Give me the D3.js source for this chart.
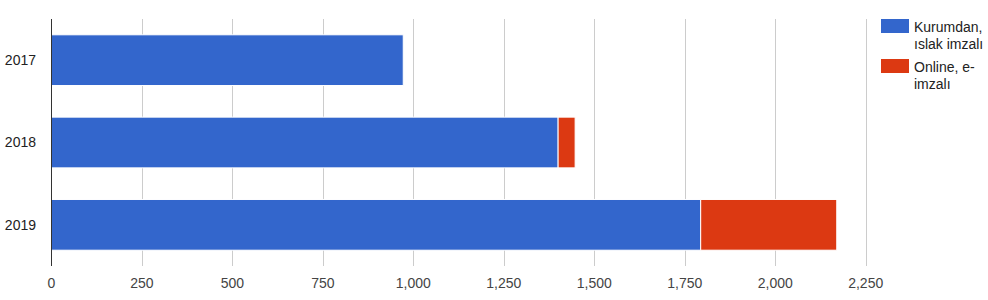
<!DOCTYPE html>
<html>
<head>
<meta charset="utf-8">
<script src="https://cdn.jsdelivr.net/npm/d3@7"></script>
<style>
  body { margin: 0; background: #fff; }
  text { font-family: "Liberation Sans", Arial, sans-serif; }
</style>
</head>
<body>
<div id="chart"></div>
<script>
const years = ["2017", "2018", "2019"];
const seriesNames = ["Kurumdan, ıslak imzalı", "Online, e-imzalı"];
const wetSigned = [972, 1400, 1794];
const eSigned = [0, 47, 376];
const xTicks = [0, 250, 500, 750, 1000, 1250, 1500, 1750, 2000, 2250];
const colors = ["#3366cc", "#dc3912"];

const width = 988, height = 300;
const margin = { left: 51.5, right: 122.3, top: 19, bottom: 34 };

const svg = d3.select("#chart").append("svg")
    .attr("width", width)
    .attr("height", height);

const x = d3.scaleLinear()
    .domain([0, 2250])
    .range([margin.left, width - margin.right]);

const y = d3.scaleBand()
    .domain(years)
    .range([margin.top, height - margin.bottom])
    .paddingInner(0.384)
    .paddingOuter(0.192);

// gridlines
svg.append("g")
    .selectAll("line")
    .data(xTicks.slice(1))
    .enter().append("line")
    .attr("x1", d => Math.round(x(d)) + 0.5)
    .attr("x2", d => Math.round(x(d)) + 0.5)
    .attr("y1", margin.top)
    .attr("y2", height - margin.bottom)
    .attr("stroke", "#cccccc")
    .attr("stroke-width", 1);

// stacked bars
const rows = years.map((yr, i) => ({ year: yr, values: [wetSigned[i], eSigned[i]] }));
const stack = d3.stack().keys([0, 1]).value((d, k) => d.values[k]);
const layers = stack(rows);

svg.append("g")
    .selectAll("g")
    .data(layers)
    .enter().append("g")
    .attr("fill", (d, i) => colors[i])
    .selectAll("rect")
    .data(d => d.filter(s => s[1] > s[0]))
    .enter().append("rect")
    .attr("x", d => x(d[0]))
    .attr("y", d => y(d.data.year))
    .attr("width", d => x(d[1]) - x(d[0]))
    .attr("height", y.bandwidth())
    .attr("stroke", "#ffffff")
    .attr("stroke-width", 1);

// baseline axis
svg.append("line")
    .attr("x1", x(0)).attr("x2", x(0))
    .attr("y1", margin.top).attr("y2", height - margin.bottom)
    .attr("stroke", "#333333")
    .attr("stroke-width", 1);

// x tick labels
svg.append("g")
    .selectAll("text")
    .data(xTicks)
    .enter().append("text")
    .attr("x", d => x(d))
    .attr("y", 288)
    .attr("text-anchor", "middle")
    .attr("font-size", 14)
    .attr("fill", "#444444")
    .text(d => d3.format(",")(d));

// y labels
svg.append("g")
    .selectAll("text")
    .data(years)
    .enter().append("text")
    .attr("x", 36)
    .attr("y", d => y(d) + y.bandwidth() / 2)
    .attr("dy", "0.35em")
    .attr("text-anchor", "end")
    .attr("font-size", 14)
    .attr("fill", "#222222")
    .text(d => d);

// legend
const legendLines = [["Kurumdan,", "ıslak imzalı"], ["Online, e-", "imzalı"]];
const legend = svg.append("g")
    .selectAll("g")
    .data(seriesNames)
    .enter().append("g")
    .attr("transform", (d, i) => `translate(881,${19 + i * 40})`);

legend.append("rect")
    .attr("width", 28)
    .attr("height", 14)
    .attr("fill", (d, i) => colors[i]);

legend.append("text")
    .attr("x", 33)
    .attr("y", 13)
    .attr("font-size", 14)
    .attr("fill", "#222222")
    .selectAll("tspan")
    .data((d, i) => legendLines[i])
    .enter().append("tspan")
    .attr("x", 33)
    .attr("dy", (d, j) => j === 0 ? 0 : 17)
    .text(d => d);
</script>
</body>
</html>
